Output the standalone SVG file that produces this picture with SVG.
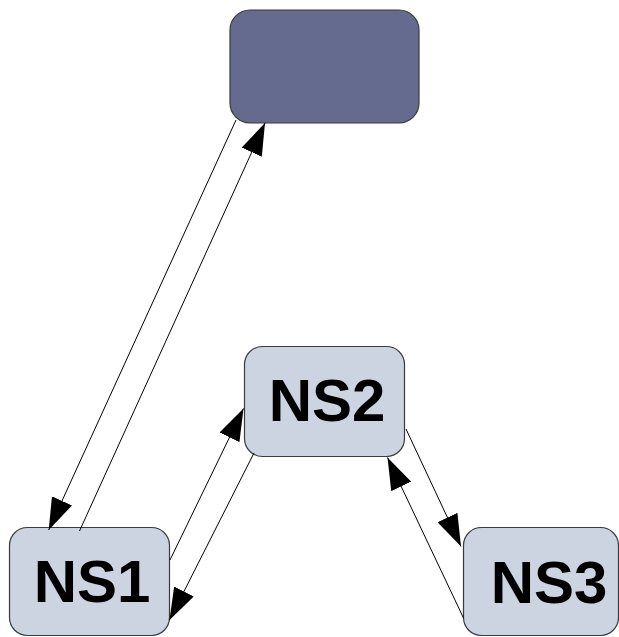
<svg xmlns="http://www.w3.org/2000/svg" width="619" height="637" viewBox="0 0 619 637">
<style>
.box{stroke:#3a3a3a;stroke-width:1.2}
.light{fill:#cdd4e1}
.dark{fill:#646b8e}
.lbl{font-family:"Liberation Sans",Arial,sans-serif;font-weight:bold;font-size:60px;fill:#000;text-anchor:middle}
.con{stroke:#000;stroke-width:1;fill:none;marker-end:url(#ah)}
</style>
<defs>
<marker id="ah" markerUnits="userSpaceOnUse" markerWidth="32" markerHeight="22" refX="32" refY="11" orient="auto" viewBox="0 0 32 22">
<path d="M0,0 L32,11 L0,22 z" fill="#000"/>
</marker>
</defs>
<rect width="619" height="637" fill="#fff"/>
<g id="top">
<rect class="box dark" x="230" y="10" width="189" height="113" rx="20" ry="20"/>
</g>
<g id="ns2">
<rect class="box light" x="244.5" y="346.5" width="160" height="110" rx="18" ry="18"/>
<text class="lbl" x="327" y="421">NS2</text>
</g>
<g id="ns1">
<rect class="box light" x="9.5" y="527.5" width="160" height="108" rx="18" ry="18"/>
<text class="lbl" x="92" y="602">NS1</text>
</g>
<g id="ns3">
<rect class="box light" x="463.5" y="527.5" width="155" height="108" rx="18" ry="18"/>
<text class="lbl" x="549" y="603">NS3</text>
</g>
<g id="connectors">
<line class="con" x1="236" y1="120" x2="48.7" y2="530"/>
<line class="con" x1="79.5" y1="531" x2="265" y2="123"/>
<line class="con" x1="170" y1="560" x2="243.5" y2="408.5"/>
<line class="con" x1="254" y1="453" x2="169.5" y2="620"/>
<line class="con" x1="406" y1="429" x2="461" y2="546.5"/>
<line class="con" x1="463.5" y1="618" x2="387.5" y2="457.5"/>
</g>
</svg>
